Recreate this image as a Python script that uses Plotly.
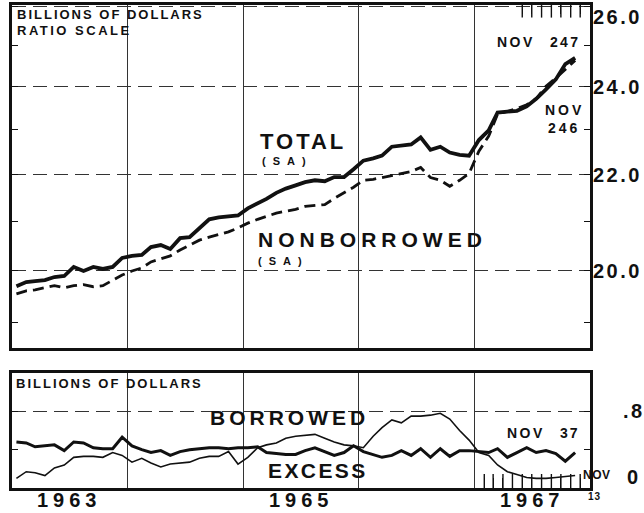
import numpy as np
import pandas as pd
import plotly.graph_objects as go

# ---------------- data (billions of dollars, monthly Jan 1963 - Nov 1967) ----------------
months = pd.date_range("1963-01-01", periods=59, freq="MS") + pd.Timedelta(days=14)

total_sa = [19.70, 19.78, 19.80, 19.82, 19.88, 19.90, 20.08, 20.00, 20.08, 20.04, 20.08, 20.26,
            20.30, 20.32, 20.48, 20.52, 20.44, 20.66, 20.68, 20.87, 21.05, 21.09, 21.11, 21.13,
            21.28, 21.38, 21.48, 21.61, 21.70, 21.77, 21.84, 21.88, 21.86, 21.95, 21.95, 22.12,
            22.31, 22.36, 22.42, 22.62, 22.65, 22.67, 22.83, 22.55, 22.62, 22.49, 22.44, 22.42,
            22.77, 22.99, 23.40, 23.42, 23.44, 23.54, 23.72, 23.94, 24.18, 24.55, 24.70]

nonborrowed_sa = [19.55, 19.61, 19.63, 19.67, 19.71, 19.67, 19.71, 19.73, 19.69, 19.71, 19.82, 19.92,
                  20.00, 20.06, 20.18, 20.24, 20.30, 20.42, 20.52, 20.62, 20.68, 20.73, 20.79, 20.87,
                  20.97, 21.05, 21.11, 21.18, 21.22, 21.26, 21.32, 21.34, 21.36, 21.49, 21.61, 21.73,
                  21.88, 21.90, 21.94, 21.98, 22.03, 22.07, 22.16, 21.94, 21.88, 21.75, 21.88, 22.03,
                  22.52, 22.86, 23.36, 23.42, 23.49, 23.58, 23.72, 24.02, 24.21, 24.42, 24.64]

excess = [0.48, 0.47, 0.43, 0.44, 0.45, 0.39, 0.48, 0.47, 0.42, 0.41, 0.41, 0.53,
          0.44, 0.40, 0.37, 0.39, 0.34, 0.38, 0.40, 0.41, 0.42, 0.42, 0.41, 0.42,
          0.42, 0.43, 0.37, 0.36, 0.35, 0.35, 0.39, 0.42, 0.38, 0.34, 0.37, 0.44,
          0.38, 0.35, 0.32, 0.34, 0.39, 0.34, 0.41, 0.32, 0.41, 0.33, 0.39, 0.39,
          0.38, 0.37, 0.41, 0.32, 0.37, 0.42, 0.37, 0.39, 0.36, 0.28, 0.37]

borrowed = [0.10, 0.17, 0.16, 0.13, 0.21, 0.24, 0.32, 0.33, 0.33, 0.32, 0.37, 0.34,
            0.27, 0.31, 0.26, 0.22, 0.25, 0.26, 0.27, 0.31, 0.33, 0.33, 0.38, 0.25,
            0.32, 0.42, 0.45, 0.47, 0.52, 0.54, 0.55, 0.56, 0.52, 0.48, 0.45, 0.44,
            0.42, 0.54, 0.63, 0.71, 0.68, 0.75, 0.75, 0.76, 0.78, 0.72, 0.60, 0.50,
            0.37, 0.34, 0.24, 0.17, 0.14, 0.11, 0.10, 0.10, 0.11, 0.12, 0.13]

year_labels = ["1963", "1965", "1967"]
year_label_pos = ["1963-07-02", "1965-07-02", "1967-07-02"]
top_ticks_1967 = ["1967-06-01", "1967-07-01", "1967-08-01", "1967-09-01",
                  "1967-10-01", "1967-11-01", "1967-12-01"]
bottom_ticks_1967 = ["1967-02-01", "1967-03-01", "1967-04-01", "1967-05-01", "1967-06-01",
                     "1967-07-01", "1967-08-01", "1967-09-01", "1967-10-01", "1967-11-01",
                     "1967-12-01"]
top_levels = [20, 22, 24, 26]
top_minor = [19, 21, 23, 25]
top_labels = ["20.0", "22.0", "24.0", "26.0"]

# ---------------- geometry ----------------
W, H = 644, 513
L, R, T, B = 12, 590, 5, 488
FONT = "Liberation Sans"
INK = "#111111"
TOP_MAX = 26.03


def px(x):
    return (x - L) / (R - L)


def py(y):
    return (B - y) / (B - T)


def sp(text, spacing):
    return f'<span style="letter-spacing:{spacing}px">{text}</span>'


def ann(text, x, y, size, spacing=0, anchor="left"):
    return dict(text=sp(text, spacing), xref="paper", yref="paper", x=px(x - 2), y=py(y),
                xanchor=anchor, yanchor="middle", showarrow=False,
                font=dict(family=FONT, size=size, color=INK, weight=700))


xr = ["1963-01-01", "1968-01-01"]

fig = go.Figure()
fig.add_trace(go.Scatter(x=months, y=total_sa, mode="lines", xaxis="x", yaxis="y",
                         line=dict(color=INK, width=3.8), hoverinfo="skip"))
fig.add_trace(go.Scatter(x=months, y=nonborrowed_sa, mode="lines", xaxis="x", yaxis="y",
                         line=dict(color=INK, width=2.8, dash="11px,6px"), hoverinfo="skip"))
fig.add_trace(go.Scatter(x=months, y=excess, mode="lines", xaxis="x2", yaxis="y2",
                         line=dict(color=INK, width=3.0), hoverinfo="skip"))
fig.add_trace(go.Scatter(x=months, y=borrowed, mode="lines", xaxis="x2", yaxis="y2",
                         line=dict(color=INK, width=1.6), hoverinfo="skip"))

# month tick marks for 1967 along the panel edges (clipped to the plot area -> inside ticks)
fig.add_trace(go.Scatter(x=top_ticks_1967, y=[TOP_MAX] * len(top_ticks_1967), mode="markers",
                         xaxis="x", yaxis="y", cliponaxis=True, hoverinfo="skip",
                         marker=dict(symbol="line-ns", size=18, color=INK,
                                     line=dict(width=1.4, color=INK))))
fig.add_trace(go.Scatter(x=bottom_ticks_1967, y=[0] * len(bottom_ticks_1967), mode="markers",
                         xaxis="x2", yaxis="y2", cliponaxis=True, hoverinfo="skip",
                         marker=dict(symbol="line-ns", size=20, color=INK,
                                     line=dict(width=1.4, color=INK))))

axis_common = dict(showline=True, linecolor=INK, linewidth=2.5, zeroline=False)
year_grid = dict(tickmode="linear", tick0="1963-01-01", dtick="M12", ticks="",
                 showgrid=True, gridcolor="#333", gridwidth=1)

fig.update_layout(
    width=W, height=H, showlegend=False,
    paper_bgcolor="white", plot_bgcolor="white",
    margin=dict(l=L, r=W - R, t=T, b=H - B),
    xaxis=dict(domain=[0, 1], anchor="y", type="date", range=xr, side="top",
               mirror=True, tickmode="array", tickvals=top_ticks_1967, ticks="inside",
               ticklen=9, tickcolor=INK, tickwidth=1.4,
               showticklabels=False, showgrid=False, minor=year_grid,
               **axis_common),
    yaxis=dict(domain=[py(348), 1], anchor="x", type="log",
               range=[np.log10(18.53), np.log10(TOP_MAX)], side="right",
               tickmode="array", tickvals=top_levels, ticks="inside", ticklen=6,
               tickcolor=INK, tickwidth=1.2, mirror="ticks", showticklabels=False,
               showgrid=True, gridcolor="#333", gridwidth=1, griddash="14px,7px",
               minor=dict(tickmode="array", tickvals=top_minor, ticks="inside", ticklen=6,
                          tickcolor=INK, tickwidth=1.2, showgrid=False),
               **axis_common),
    xaxis2=dict(domain=[0, 1], anchor="y2", type="date", range=xr, side="bottom",
                mirror=True, tickmode="array", tickvals=bottom_ticks_1967, ticks="inside",
                ticklen=10, tickcolor=INK, tickwidth=1.4,
                showticklabels=False, showgrid=False, minor=year_grid,
                **axis_common),
    yaxis2=dict(domain=[0, py(373)], anchor="x2", range=[0, 1.2], side="right",
                tickmode="array", tickvals=[0.8], ticks="inside", ticklen=6,
                tickcolor=INK, tickwidth=1.2, mirror="ticks", showticklabels=False,
                showgrid=True, gridcolor="#333", gridwidth=1, griddash="14px,7px",
                minor=dict(tickmode="array", tickvals=[0.4], ticks="inside", ticklen=6,
                           tickcolor=INK, tickwidth=1.2, showgrid=False),
                **axis_common),
)

anns = [
    ann("BILLIONS OF DOLLARS", 17, 15, 13, 2),
    ann("RATIO SCALE", 17, 30, 13, 2.5),
    ann("TOTAL", 260, 141, 22, 3),
    ann("(SA)", 262, 161, 11, 7),
    ann("NONBORROWED", 258, 239, 21, 5),
    ann("(SA)", 258, 261, 11, 7),
    ann("NOV", 497, 42, 14, 2.5),
    ann("247", 550, 42, 14, 2.3),
    ann("NOV", 545, 110, 14, 3),
    ann("246", 548, 128, 14, 3),
    ann("BILLIONS OF DOLLARS", 16, 383, 13, 2),
    ann("BORROWED", 210, 417, 21, 4),
    ann("EXCESS", 268, 470, 21, 2.4),
    ann("NOV", 507, 433, 14, 2.5),
    ann("37", 560, 433, 14, 2),
    ann("NOV", 583, 475, 12, 0.5),
    ann("13", 588, 497, 10, 1),
]

# year labels under the lower panel (placed on the date axis)
for lab, pos in zip(year_labels, year_label_pos):
    anns.append(dict(text=sp(lab, 5), xref="x2", yref="paper", x=pos, y=py(500),
                     xanchor="center", yanchor="middle", showarrow=False,
                     font=dict(family=FONT, size=20, color=INK, weight=700)))

# right-hand scale labels (placed on the data axes)
shifts = {26: -11}
for v, lab in zip(top_levels, top_labels):
    anns.append(dict(text=sp(lab, 2.5), xref="paper", yref="y", x=1, y=np.log10(v),
                     xanchor="left", yanchor="middle", xshift=1, yshift=shifts.get(v, 0),
                     showarrow=False, font=dict(family=FONT, size=20, color=INK, weight=700)))
anns.append(dict(text=sp(".8", 2.5), xref="paper", yref="y2", x=1, y=0.8, xanchor="left",
                 yanchor="middle", xshift=31, showarrow=False,
                 font=dict(family=FONT, size=20, color=INK, weight=700)))
anns.append(dict(text=sp("0", 2.5), xref="paper", yref="y2", x=1, y=0.0, xanchor="left",
                 yanchor="middle", xshift=35, yshift=11, showarrow=False,
                 font=dict(family=FONT, size=20, color=INK, weight=700)))

fig.update_layout(annotations=anns)
fig.write_html("out.html", config={"displayModeBar": False},
               post_script="document.body.style.margin='0px';document.body.style.overflow='hidden';")
